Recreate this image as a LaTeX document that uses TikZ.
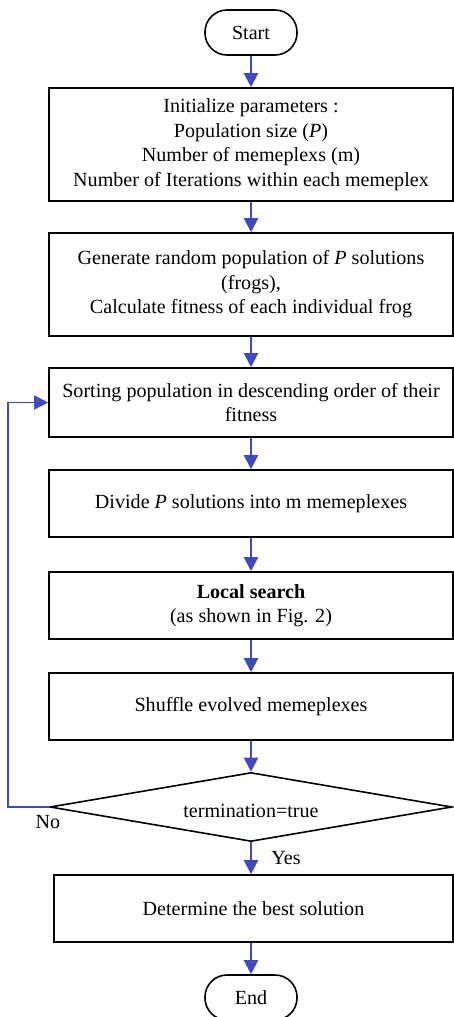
\documentclass[tikz,border=0pt]{standalone}
\usepackage{fontspec}
\setmainfont{Liberation Serif}
\usetikzlibrary{arrows.meta,shapes.geometric}
\definecolor{arrowblue}{RGB}{62,74,190}
\begin{document}
\begin{tikzpicture}[x=1pt,y=-1pt,
  txt/.style={font=\fontsize{20.1}{24.5}\selectfont},
  proc/.style={draw=black, line width=1.6pt, rectangle, minimum width=404pt, align=center, inner sep=0pt, txt},
  term/.style={draw=black, line width=1.6pt, rectangle, rounded corners=22pt, minimum width=92pt, minimum height=45pt, inner sep=0pt, txt},
  dec/.style={draw=black, line width=1.6pt, diamond, aspect=6, minimum width=402pt, minimum height=69pt, inner sep=0pt, txt},
  flow/.style={draw=arrowblue, line width=2.2pt, -{Triangle[length=14pt,width=14pt]}},
  back/.style={draw=arrowblue, line width=1.5pt, -{Triangle[length=14pt,width=14pt]}},
  lbl/.style={txt}]
\useasboundingbox (0,0) rectangle (454,1017);
\node[term] (start) at (251,32.5) {Start};
\node[proc, minimum height=113pt] (b1) at (251,144.5) {Initialize parameters :\\Population size (\textit{P})\\Number of memeplexs (m)\\Number of Iterations within each memeplex};
\node[proc, minimum height=103pt] (b2) at (251,284.5) {Generate random population of \textit{P} solutions\\(frogs),\\Calculate fitness of each individual frog};
\node[proc, minimum height=69pt] (b3) at (251,402.5) {Sorting population in descending order of their\\fitness};
\node[proc, minimum height=67pt] (b4) at (251,503.5) {Divide \textit{P} solutions into m memeplexes};
\node[proc, minimum height=67pt] (b5) at (251,605.5) {\textbf{Local search}\\(as shown in Fig. 2)};
\node[proc, minimum height=67pt] (b6) at (251,706.5) {Shuffle evolved memeplexes};
\node[dec] (dia) at (251,807) {};
\node[txt] (diat) at (251,811) {termination=true};
\node[proc, minimum width=399pt, minimum height=67pt] (b7) at (253.5,908.5) {Determine the best solution};
\node[term] (end) at (251,997.5) {End};
\coordinate (lc) at (8,600);
\node[lbl] (no) at (48,822) {No};
\node[lbl] (yes) at (286,858) {Yes};
\draw[flow] (start) -- (b1);
\draw[flow] (b1) -- (b2);
\draw[flow] (b2) -- (b3);
\draw[flow] (b3) -- (b4);
\draw[flow] (b4) -- (b5);
\draw[flow] (b5) -- (b6);
\draw[flow] (b6) -- (dia.north);
\draw[flow] (dia.south) -- (b7.north -| dia.south);
\draw[flow] (b7.south -| end.north) -- (end.north);
\draw[back] (dia.west) -| (lc) |- (b3.west);
\end{tikzpicture}
\end{document}
